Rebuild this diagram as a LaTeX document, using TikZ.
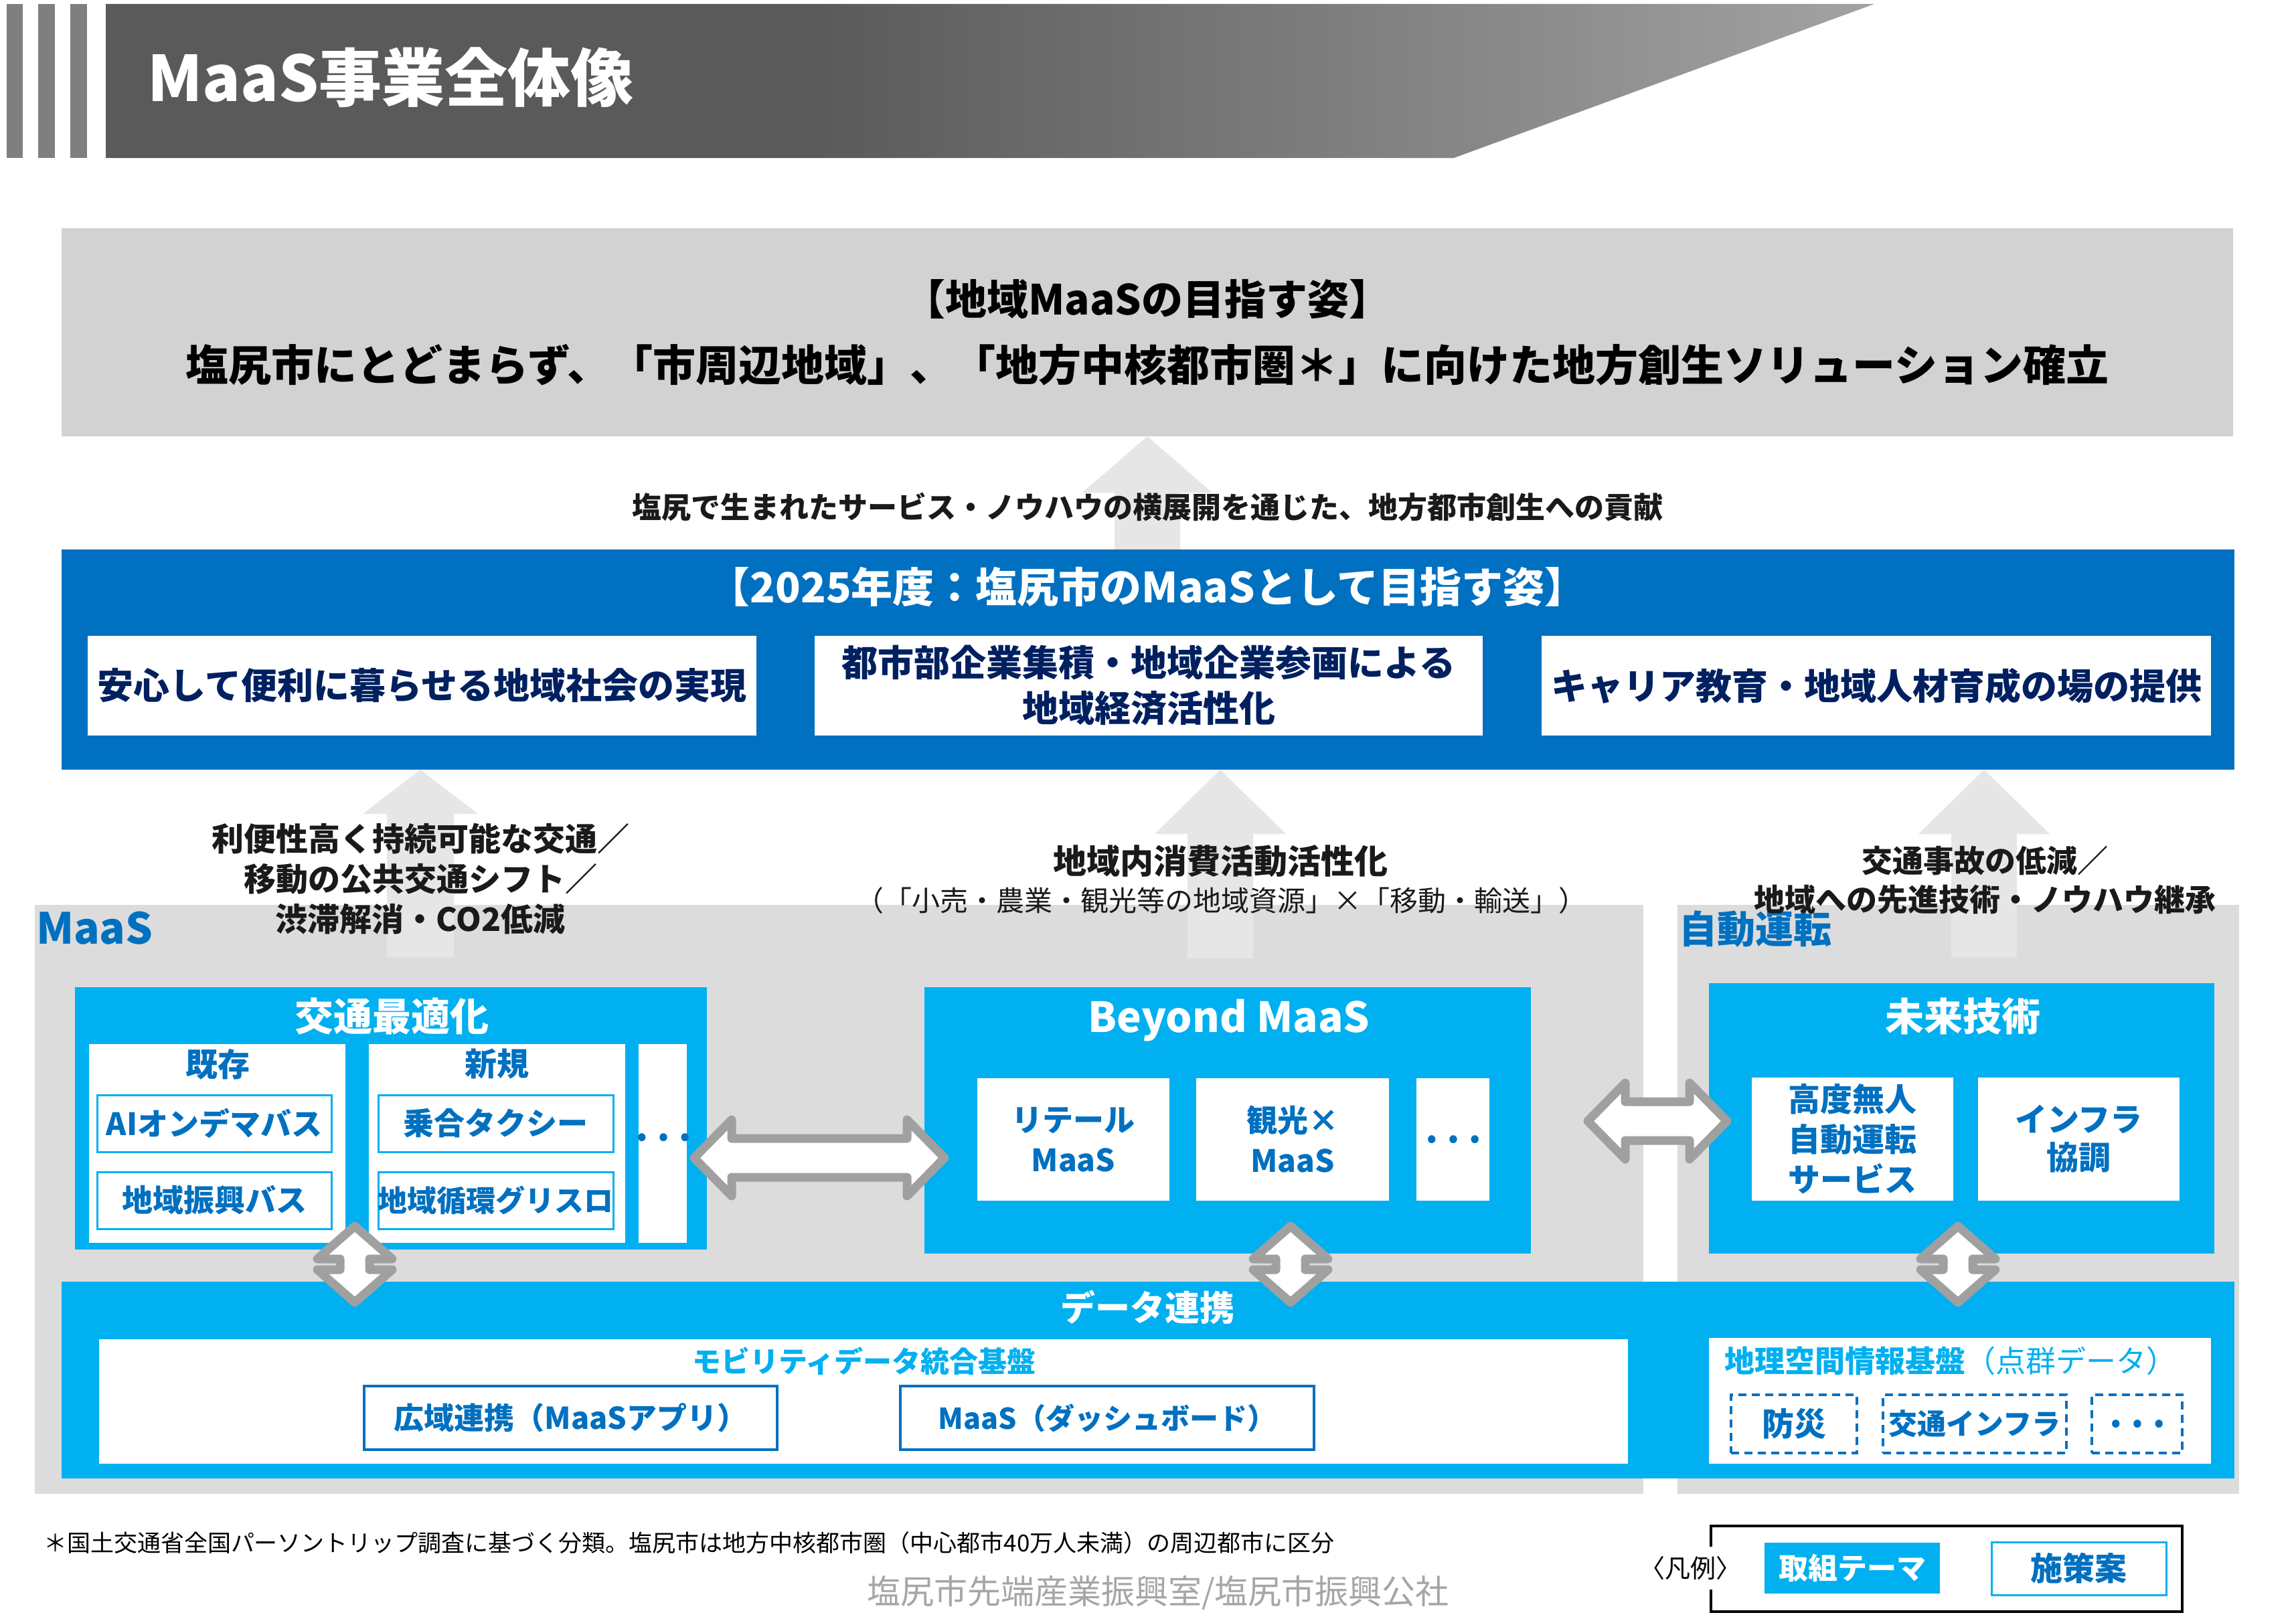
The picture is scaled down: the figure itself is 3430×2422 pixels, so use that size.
\documentclass[tikz,border=0pt]{standalone}
\usepackage{fontspec}
\setmainfont{Noto Sans CJK JP}
\usetikzlibrary{fit}
\definecolor{cyanb}{HTML}{00B0F0}
\definecolor{blueb}{HTML}{0070C0}
\definecolor{navy}{HTML}{002060}
\definecolor{outgray}{HTML}{A0A0A0}
\definecolor{topgray}{HTML}{D2D2D2}
\definecolor{panelgray}{HTML}{DCDCDC}
\definecolor{arrgray}{HTML}{E6E6E6}
\definecolor{stripe}{HTML}{7F7F7F}
\definecolor{tdark}{HTML}{5A5A5A}
\definecolor{tlight}{HTML}{A3A3A3}
\definecolor{txtc}{HTML}{1A1A1A}
\definecolor{creditc}{HTML}{A6A6A6}
\pgfdeclarehorizontalshading{titleshade}{100bp}{color(0bp)=(tdark); color(45bp)=(tdark); color(75bp)=(tlight); color(100bp)=(tlight)}
\newcommand\FS[2]{\fontsize{#1pt}{#2pt}\selectfont}
\newcommand\uparr[6]{\fill[arrgray] (#1,#2) -- ({#1+#4},#3) -- ({#1+#5},#3) -- ({#1+#5},#6) -- ({#1-#5},#6) -- ({#1-#5},#3) -- ({#1-#4},#3) -- cycle;}
\newcommand\harr[3]{\draw[dblarrow] ({#1-#3},#2) -- ({#1-#3+56},{#2-57}) -- ({#1-#3+56},{#2-29}) -- ({#1+#3-56},{#2-29}) -- ({#1+#3-56},{#2-57}) -- ({#1+#3},#2) -- ({#1+#3-56},{#2+57}) -- ({#1+#3-56},{#2+29}) -- ({#1-#3+56},{#2+29}) -- ({#1-#3+56},{#2+57}) -- cycle;}
\newcommand\varr[2]{\draw[dblarrow] (#1,{#2-57}) -- ({#1+56},{#2-8}) -- ({#1+22},{#2-8}) -- ({#1+22},{#2+8}) -- ({#1+56},{#2+8}) -- (#1,{#2+57}) -- ({#1-56},{#2+8}) -- ({#1-22},{#2+8}) -- ({#1-22},{#2-8}) -- ({#1-56},{#2-8}) -- cycle;}
\tikzset{
  box/.style={inner sep=0pt, outer sep=0pt},
  txt/.style={inner sep=0pt, outer sep=0pt, align=center},
  dblarrow/.style={draw=outgray, line width=13pt, fill=white, line join=round},
  cyanbox/.style={box, fill=cyanb},
  whitebox/.style={box, fill=white},
  thinbox/.style={box, fill=white, draw=cyanb, line width=3pt},
  bluebox/.style={box, fill=white, draw=blueb, line width=4pt},
  dashbox/.style={box, draw=blueb, line width=4pt, dash pattern=on 12pt off 8pt},
  dots/.style={txt, text=blueb, font=\FS{86}{90}},
}
\begin{document}
\begin{tikzpicture}[x=1pt,y=-1pt]
\useasboundingbox (0,0) rectangle (3430,2422);
\fill[white] (0,0) rectangle (3430,2422);
% ---------- title bar
\fill[stripe] (10,6) rectangle (34,236);
\fill[stripe] (57,6) rectangle (82,236);
\fill[stripe] (105,6) rectangle (130,236);
\shade[shading=titleshade] (158,6) -- (2800,6) -- (2172,236) -- (158,236) -- cycle;
\node[txt, anchor=west, text=white, font=\FS{94}{110}\bfseries] (title) at (220,116) {MaaS事業全体像};
% ---------- goal box
\node[box, fill=topgray, fit={(92,341)(3336,652)}] (goal) {};
\node[txt, text=black, font=\FS{62}{70}\bfseries] (goalA) at (1714,447) {【地域MaaSの目指す姿】};
\node[txt, text=black, font=\FS{64}{70}\bfseries] (goalB) at (1714,545) {塩尻市にとどまらず、「市周辺地域」、「地方中核都市圏＊」に向けた地方創生ソリューション確立};
\uparr{1714}{652}{736}{97}{49}{821}
\node[txt, text=txtc, font=\FS{44}{50}\bfseries] (contrib) at (1714,758) {塩尻で生まれたサービス・ノウハウの横展開を通じた、地方都市創生への貢献};
% ---------- 2025 band
\node[box, fill=blueb, fit={(92,821)(3338,1150)}] (band) {};
\node[txt, text=white, font=\FS{62}{70}\bfseries] (bandT) at (1714,877) {【2025年度：塩尻市のMaaSとして目指す姿】};
\node[whitebox, fit={(131,950)(1130,1099)}] (wb1) {};
\node[whitebox, fit={(1217,950)(2215,1099)}] (wb2) {};
\node[whitebox, fit={(2303,950)(3303,1099)}] (wb3) {};
\node[txt, text=navy, font=\FS{54}{70}\bfseries] (wb1T) at (wb1.center) {安心して便利に暮らせる地域社会の実現};
\node[txt, text=navy, font=\FS{54}{68}\bfseries] (wb2T) at (wb2.center) {都市部企業集積・地域企業参画による\\地域経済活性化};
\node[txt, text=navy, font=\FS{54}{70}\bfseries] (wb3T) at (wb3.center) {キャリア教育・地域人材育成の場の提供};
% ---------- panels
\node[box, fill=panelgray, fit={(52,1352)(2455,2232)}] (maasP) {};
\node[box, fill=panelgray, fit={(2506,1352)(3345,2232)}] (autoP) {};
\uparr{628}{1150}{1216}{86}{50}{1430}
\uparr{1823}{1150}{1246}{98}{49}{1432}
\uparr{2964}{1150}{1246}{98}{49}{1430}
\node[txt, anchor=west, text=blueb, font=\FS{64}{70}\bfseries] (maasL) at (54,1387) {MaaS};
\node[txt, anchor=west, text=blueb, font=\FS{57}{70}\bfseries] (autoL) at (2508,1388) {自動運転};
\node[txt, text=txtc, font=\FS{48}{60}\bfseries] (effL) at (628,1313) {利便性高く持続可能な交通／\\移動の公共交通シフト／\\渋滞解消・CO2低減};
\node[txt, text=txtc, font=\FS{50}{58}\bfseries] (effM1) at (1823,1287) {地域内消費活動活性化};
\node[txt, text=txtc, font=\FS{42}{50}] (effM2) at (1824,1346) {（「小売・農業・観光等の地域資源」×「移動・輸送」）};
\node[txt, text=txtc, font=\FS{46}{58}\bfseries] (effR) at (2965,1315) {交通事故の低減／\\地域への先進技術・ノウハウ継承};
% ---------- 交通最適化
\node[cyanbox, fit={(112,1475)(1056,1867)}] (kotsu) {};
\node[txt, text=white, font=\FS{58}{60}\bfseries] (kotsuT) at (585,1518) {交通最適化};
\node[whitebox, fit={(133,1560)(516,1857)}] (kizon) {};
\node[whitebox, fit={(551,1560)(934,1857)}] (shinki) {};
\node[whitebox, fit={(954,1560)(1026,1857)}] (kdots) {};
\node[txt, text=blueb, font=\FS{48}{50}\bfseries] (kizonT) at (325,1590) {既存};
\node[txt, text=blueb, font=\FS{48}{50}\bfseries] (shinkiT) at (742,1590) {新規};
\node[thinbox, fit={(145,1636)(495,1721)}] (ai) {};
\node[thinbox, fit={(145,1751)(495,1836)}] (shinko) {};
\node[thinbox, fit={(565,1636)(916,1721)}] (noriai) {};
\node[thinbox, fit={(565,1751)(916,1836)}] (junkan) {};
\node[txt, text=blueb, font=\FS{46}{50}\bfseries] at (ai.center) {AIオンデマバス};
\node[txt, text=blueb, font=\FS{46}{50}\bfseries] at (shinko.center) {地域振興バス};
\node[txt, text=blueb, font=\FS{46}{50}\bfseries] at (noriai.center) {乗合タクシー};
\node[txt, text=blueb, font=\FS{44}{50}\bfseries] at (junkan.center) {地域循環グリスロ};
\node[dots] at (990,1700) {…};
% ---------- Beyond MaaS
\node[cyanbox, fit={(1381,1475)(2287,1873)}] (beyond) {};
\node[txt, text=white, font=\FS{62}{66}\bfseries] (beyondT) at (1836,1525) {Beyond MaaS};
\node[whitebox, fit={(1460,1611)(1747,1794)}] (retail) {};
\node[whitebox, fit={(1787,1611)(2075,1794)}] (kanko) {};
\node[whitebox, fit={(2116,1611)(2225,1794)}] (bdots) {};
\node[txt, text=blueb, font=\FS{46}{60}\bfseries] at (retail.center) {リテール\\MaaS};
\node[txt, text=blueb, font=\FS{46}{60}\bfseries] at (kanko.center) {観光×\\MaaS};
\node[dots] at (bdots.center) {…};
% ---------- 未来技術
\node[cyanbox, fit={(2553,1469)(3308,1873)}] (mirai) {};
\node[txt, text=white, font=\FS{58}{60}\bfseries] (miraiT) at (2932,1518) {未来技術};
\node[whitebox, fit={(2617,1610)(2918,1794)}] (koudo) {};
\node[whitebox, fit={(2955,1610)(3256,1794)}] (infra) {};
\node[txt, text=blueb, font=\FS{48}{60}\bfseries] at (koudo.center) {高度無人\\自動運転\\サービス};
\node[txt, text=blueb, font=\FS{48}{57}\bfseries] at (infra.center) {インフラ\\協調};
% ---------- horizontal double arrows
\harr{1224}{1730}{187}
\harr{2476}{1675}{104}
% ---------- data band
\node[cyanbox, fit={(92,1915)(3338,2209)}] (data) {};
\node[txt, text=white, font=\FS{52}{56}\bfseries] (dataT) at (1714,1953) {データ連携};
\node[whitebox, fit={(148,2001)(2432,2187)}] (mobil) {};
\node[txt, text=cyanb, font=\FS{43}{48}\bfseries] (mobilT) at (1291,2034) {モビリティデータ統合基盤};
\node[bluebox, fit={(544,2071)(1161,2166)}] (kouiki) {};
\node[bluebox, fit={(1345,2071)(1963,2166)}] (dash) {};
\node[txt, text=blueb, font=\FS{45}{50}\bfseries] at (kouiki.center) {広域連携（MaaSアプリ）};
\node[txt, text=blueb, font=\FS{43}{50}\bfseries] at (dash.center) {MaaS（ダッシュボード）};
\node[whitebox, fit={(2553,1999)(3303,2187)}] (geo) {};
\node[txt, text=cyanb, font=\FS{45}{50}] (geoT) at (2914,2033) {\bfseries 地理空間情報基盤\mdseries （点群データ）};
\node[dashbox, fit={(2586,2084)(2774,2171)}] (bosai) {};
\node[dashbox, fit={(2813,2084)(3087,2171)}] (kinfra) {};
\node[dashbox, fit={(3125,2084)(3260,2171)}] (gdots) {};
\node[txt, text=blueb, font=\FS{48}{50}\bfseries] at (bosai.center) {防災};
\node[txt, text=blueb, font=\FS{43}{50}\bfseries] at (kinfra.center) {交通インフラ};
\node[dots] at (gdots.center) {…};
% ---------- vertical double arrows
\varr{530}{1889}
\varr{1928}{1889}
\varr{2925}{1889}
% ---------- footer
\node[txt, anchor=west, text=black, font=\FS{35}{40}] (note) at (65,2305) {＊国土交通省全国パーソントリップ調査に基づく分類。塩尻市は地方中核都市圏（中心都市40万人未満）の周辺都市に区分};
\node[txt, text=creditc, font=\FS{50}{55}] (credit) at (1730,2380) {塩尻市先端産業振興室/塩尻市振興公社};
% ---------- legend
\node[box, draw=black, line width=4pt, fit={(2556,2280)(3260,2408)}] (legend) {};
\node[txt, fill=white, inner ysep=14pt, text=black, font=\FS{38}{40}] (hanrei) at (2525,2343) {〈凡例〉};
\node[cyanbox, fit={(2636,2305)(2898,2381)}] (lg1) {};
\node[thinbox, fit={(2975,2304)(3236,2383)}] (lg2) {};
\node[txt, text=white, font=\FS{44}{48}\bfseries] at (lg1.center) {取組テーマ};
\node[txt, text=blueb, font=\FS{48}{50}\bfseries] at (lg2.center) {施策案};
\end{tikzpicture}
\end{document}
